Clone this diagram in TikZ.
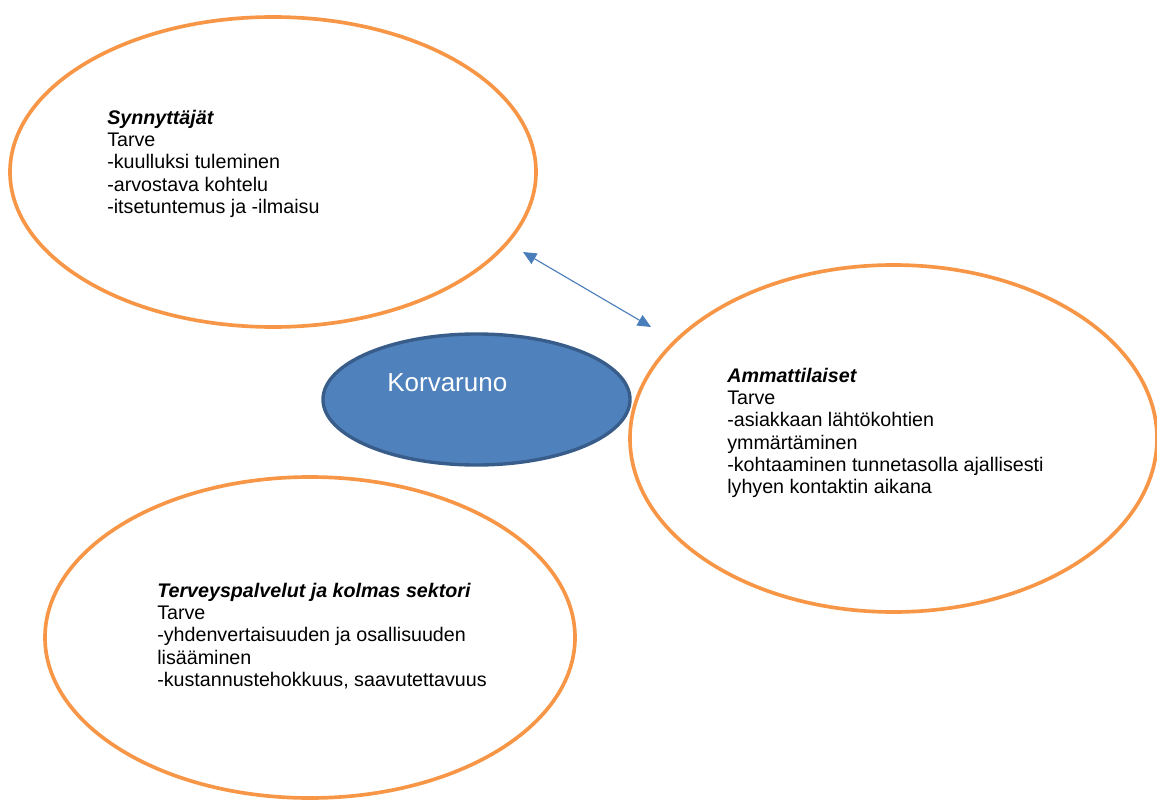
\documentclass[tikz,border=0pt]{standalone}
\usepackage{fontspec}
\setmainfont{Liberation Sans}
\usetikzlibrary{shapes.geometric,arrows.meta}

\definecolor{need}{HTML}{F79646}
\definecolor{corefill}{HTML}{4F81BD}
\definecolor{coreline}{HTML}{385D8A}
\definecolor{link}{HTML}{4A7EBB}

\tikzstyle{group}=[ellipse,draw=need,line width=2.6pt,inner sep=0pt]
\tikzstyle{needs}=[anchor=north west,align=left,inner sep=0pt,
  font=\fontsize{14pt}{15.8pt}\selectfont]

\begin{document}
\begin{tikzpicture}[x=0.025cm, y=-0.025cm]
		\useasboundingbox (0,0) rectangle (1157,800);
		\node [group, minimum width=526*0.025cm, minimum height=310*0.025cm] (synn) at (273,172)   {};
		\node [group, minimum width=527*0.025cm, minimum height=347*0.025cm] (amm)  at (893.5,438.5) {};
		\node [group, minimum width=530*0.025cm, minimum height=321*0.025cm] (terv) at (310,637.5) {};
		\node [ellipse, fill=corefill, draw=coreline, line width=2.4pt,
		       minimum width=307*0.025cm, minimum height=131*0.025cm] (korv) at (476.5,399.5) {};
		\node [anchor=base west, inner sep=0pt, text=white,
		       font=\fontsize{18.5pt}{22pt}\selectfont] (korvtext) at (387,391) {Korvaruno};

		\node [needs] (synntext) at (107,110) {\textbf{\textit{Synnyttäjät}}\\Tarve\\-kuulluksi tuleminen\\-arvostava kohtelu\\-itsetuntemus ja -ilmaisu};
		\node [needs] (ammtext)  at (727,368) {\textbf{\textit{Ammattilaiset}}\\Tarve\\-asiakkaan lähtökohtien\\ymmärtäminen\\-kohtaaminen tunnetasolla ajallisesti\\lyhyen kontaktin aikana};
		\node [needs] (tervtext) at (157,583) {\textbf{\textit{Terveyspalvelut ja kolmas sektori}}\\Tarve\\-yhdenvertaisuuden ja osallisuuden\\lisääminen\\-kustannustehokkuus, saavutettavuus};

		\coordinate (linkA) at (523,252);
		\coordinate (linkB) at (651,327);
		\draw [link, line width=0.8pt, {Triangle[length=9.5pt,width=8.5pt]}-{Triangle[length=9.5pt,width=8.5pt]}] (linkA) -- (linkB);
	\end{tikzpicture}
\end{document}
